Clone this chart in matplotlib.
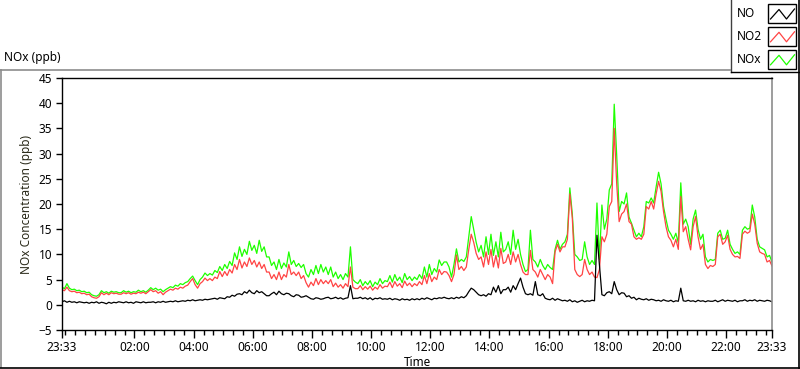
import numpy as np
import matplotlib
matplotlib.use("Agg")
import matplotlib.pyplot as plt
from matplotlib.lines import Line2D
from matplotlib.patches import Rectangle

plt.rcParams['font.family'] = ['Noto Sans', 'DejaVu Sans']

# ---------------- data (5-minute samples, 23:33 -> 23:33) ----------------
series_names = ["NO", "NO2", "NOx"]
series_colors = ["#000000", "#ff4444", "#1eff00"]

nox = [
    3.5, 3.2, 4.2, 3.3, 3.0, 3.1, 2.8, 2.9, 2.6, 2.7, 2.4, 2.5,
    2.0, 1.8, 1.7, 2.0, 2.8, 2.4, 2.6, 2.3, 2.7, 2.5, 2.6, 2.4,
    2.4, 2.8, 2.5, 2.7, 2.4, 2.6, 2.5, 2.9, 2.6, 2.8, 2.5, 2.9,
    3.4, 3.0, 3.3, 2.9, 3.1, 2.6, 3.0, 3.3, 3.6, 3.4, 3.9, 3.7,
    4.2, 4.0, 4.4, 4.6, 5.2, 5.7, 4.8, 4.0, 5.0, 5.5, 6.3, 5.8,
    6.2, 5.9, 6.8, 6.4, 7.6, 6.8, 8.0, 7.2, 8.6, 7.8, 10.3, 9.0,
    11.5, 9.6, 11.0, 10.0, 12.6, 10.8, 11.8, 10.2, 12.8, 10.6, 11.5, 9.5,
    9.5, 7.8, 8.5, 7.0, 9.0, 7.2, 8.3, 7.5, 10.5, 8.0, 8.8, 7.6,
    8.2, 7.4, 8.0, 6.2, 5.5, 7.0, 6.0, 7.8, 6.2, 8.0, 6.5, 7.5,
    6.0, 7.5, 5.5, 6.5, 5.2, 6.0, 5.0, 6.2, 5.5, 11.5, 5.0, 4.5,
    4.2, 5.0, 3.8, 4.6, 4.0, 4.8, 3.6, 4.5, 4.0, 5.2, 4.2, 4.8,
    4.6, 5.8, 4.5, 6.0, 4.8, 5.5, 4.4, 6.2, 5.0, 5.6, 4.8, 5.5,
    5.0, 6.0, 5.2, 7.5, 5.5, 8.0, 6.0, 7.2, 6.5, 8.9, 7.8, 8.5,
    8.5, 7.5, 5.5, 8.0, 11.1, 8.5, 9.0, 8.6, 9.5, 13.5, 17.5, 15.0,
    12.4, 10.5, 11.8, 9.5, 13.5, 10.0, 14.0, 9.8, 12.5, 9.5, 14.4, 10.5,
    11.0, 12.5, 10.0, 14.8, 11.0, 13.0, 10.0, 8.0, 6.6, 7.0, 14.8, 9.0,
    8.5, 7.5, 9.0, 7.8, 7.0, 8.0, 7.4, 7.0, 11.0, 12.8, 11.0, 12.0,
    12.5, 14.0, 23.2, 18.0, 10.0, 9.5, 8.8, 9.0, 12.5, 9.5, 8.0, 8.8,
    8.0, 20.2, 9.0, 19.8, 15.0, 17.0, 22.8, 24.0, 39.8, 29.7, 18.5, 20.5,
    20.0, 22.2, 17.4, 16.2, 14.8, 13.5, 14.2, 13.5, 15.5, 20.5, 20.2, 21.2,
    20.2, 23.4, 26.3, 24.0, 19.5, 17.0, 14.8, 14.0, 13.0, 14.2, 12.3, 24.2,
    16.0, 17.0, 15.5, 12.0, 17.0, 18.8, 15.0, 13.0, 14.0, 9.5, 8.5, 9.0,
    8.8, 9.0, 14.2, 14.8, 13.0, 13.2, 14.8, 12.0, 11.0, 10.2, 10.5, 10.0,
    14.8, 15.5, 15.0, 15.2, 19.8, 17.4, 13.0, 11.5, 11.2, 10.9, 9.5, 9.8, 8.5,
]

no2 = [
    3.0, 2.8, 3.5, 2.8, 2.6, 2.7, 2.4, 2.5, 2.2, 2.3, 2.0, 2.1,
    1.6, 1.4, 1.3, 1.6, 2.4, 2.0, 2.3, 2.0, 2.4, 2.2, 2.3, 2.1,
    2.1, 2.4, 2.2, 2.4, 2.1, 2.3, 2.2, 2.5, 2.3, 2.5, 2.2, 2.6,
    3.0, 2.6, 2.8, 2.3, 2.6, 2.0, 2.5, 2.8, 3.1, 2.9, 3.3, 3.1,
    3.5, 3.3, 3.7, 3.9, 4.6, 5.2, 4.0, 3.3, 4.2, 4.6, 5.3, 4.8,
    5.2, 4.8, 5.5, 5.2, 6.6, 5.6, 6.6, 5.8, 7.0, 6.3, 8.0, 7.0,
    9.0, 7.3, 8.5, 7.6, 9.3, 8.0, 8.8, 7.5, 8.5, 7.2, 8.0, 6.5,
    6.5, 5.2, 6.0, 5.0, 6.5, 5.0, 6.0, 5.5, 8.0, 6.0, 6.5, 5.8,
    6.5, 5.2, 5.8, 4.4, 3.5, 4.5, 3.8, 5.2, 4.0, 5.0, 4.2, 4.8,
    4.2, 5.0, 3.6, 4.3, 3.5, 4.0, 3.3, 4.2, 3.6, 7.5, 3.5, 3.2,
    3.2, 3.8, 3.0, 3.6, 3.1, 3.7, 2.9, 3.5, 3.1, 4.0, 3.3, 3.7,
    3.6, 4.5, 3.4, 4.6, 3.7, 4.2, 3.4, 4.7, 3.8, 4.3, 3.6, 4.2,
    3.8, 4.6, 4.0, 5.8, 4.2, 6.2, 4.6, 5.5, 5.0, 7.0, 6.0, 6.6,
    6.5, 5.8, 4.6, 6.0, 9.9, 7.0, 7.6, 6.8, 7.5, 11.0, 14.0, 12.4,
    10.2, 9.0, 9.5, 7.5, 10.5, 8.0, 11.0, 7.5, 9.8, 7.3, 11.2, 8.2,
    8.5, 10.0, 8.0, 10.5, 8.5, 10.0, 8.0, 6.5, 6.0, 6.0, 10.8, 7.0,
    6.5, 5.5, 7.0, 6.0, 5.0, 6.0, 5.5, 4.2, 10.5, 12.0, 10.5, 11.5,
    11.5, 13.0, 22.0, 17.2, 7.0, 6.0, 5.6, 6.0, 9.0, 7.0, 6.0, 6.5,
    5.5, 5.4, 7.0, 13.5, 12.5, 14.0, 19.5, 20.5, 35.0, 24.0, 16.5, 18.0,
    18.5, 20.0, 16.5, 16.0, 13.5, 13.0, 13.3, 13.0, 14.0, 19.5, 19.0, 20.5,
    19.0, 22.0, 24.5, 22.5, 18.5, 15.5, 13.5, 12.8, 11.5, 13.0, 11.0, 21.5,
    14.5, 15.5, 13.0, 10.9, 15.5, 17.5, 13.5, 11.0, 12.0, 8.0, 7.2, 7.8,
    7.6, 8.0, 13.5, 14.0, 12.0, 12.5, 13.8, 11.0, 10.0, 9.5, 9.6, 9.2,
    14.0, 14.6, 14.2, 14.5, 18.0, 16.0, 12.2, 10.5, 10.2, 10.0, 8.5, 8.8, 7.7,
]

no = [
    0.6, 0.8, 0.5, 0.7, 0.5, 0.6, 0.4, 0.6, 0.5, 0.4, 0.5, 0.3,
    0.5, 0.4, 0.6, 0.3, 0.5, 0.4, 0.2, 0.5, 0.3, 0.5, 0.4, 0.6,
    0.5, 0.4, 0.6, 0.4, 0.5, 0.3, 0.6, 0.5, 0.4, 0.6, 0.4, 0.5,
    0.5, 0.6, 0.4, 0.6, 0.5, 0.7, 0.5, 0.6, 0.7, 0.6, 0.8, 0.6,
    0.7, 0.8, 0.7, 0.9, 0.8, 1.0, 0.8, 0.9, 1.0, 0.9, 1.1, 1.0,
    1.1, 1.2, 1.3, 1.1, 1.4, 1.3, 1.2, 1.6, 1.5, 1.9, 1.7, 2.1,
    2.2, 2.0, 2.6, 2.3, 2.9, 2.4, 2.2, 2.8, 2.4, 2.6, 2.2, 1.8,
    1.8, 2.2, 2.5, 2.0, 2.7, 2.2, 2.0, 2.3, 2.2, 1.8, 1.6, 2.0,
    1.9, 1.5, 1.6, 1.8, 1.5, 1.2, 1.1, 1.4, 1.3, 1.1, 1.2, 1.4,
    1.5, 1.2, 1.3, 1.5, 1.2, 1.4, 1.1, 1.3, 1.4, 3.8, 1.2, 1.3,
    1.3, 1.5, 1.2, 1.4, 1.1, 1.4, 1.0, 1.3, 1.2, 1.4, 1.1, 1.2,
    1.1, 1.3, 1.0, 1.2, 1.1, 0.9, 1.2, 1.0, 1.1, 0.9, 1.2, 1.0,
    1.2, 1.0, 1.3, 1.1, 1.4, 1.2, 1.0, 1.3, 1.2, 1.4, 1.3, 1.5,
    1.3, 1.2, 1.4, 1.2, 1.5, 1.3, 1.6, 1.4, 1.8, 2.6, 3.3, 3.0,
    2.5, 2.0, 1.8, 2.0, 1.7, 2.2, 2.0, 3.5, 2.5, 3.8, 2.2, 3.0,
    3.0, 3.5, 2.5, 3.8, 3.0, 4.2, 5.3, 3.5, 2.2, 2.0, 2.2, 1.9,
    4.6, 2.0, 1.8, 2.2, 1.3, 1.1, 1.0, 1.3, 0.9, 1.2, 1.0, 0.8,
    0.9, 0.7, 1.0, 0.6, 0.8, 0.5, 0.7, 0.9, 0.6, 0.8, 0.7, 0.9,
    0.8, 13.8, 7.9, 2.0, 1.8, 2.4, 2.6, 2.2, 4.6, 3.0, 2.0, 2.4,
    2.3, 1.6, 1.8, 1.3, 1.5, 1.0, 1.3, 1.1, 1.0, 1.2, 0.9, 1.1,
    1.0, 0.8, 0.9, 0.7, 1.0, 0.8, 0.7, 0.9, 0.6, 0.8, 0.7, 3.3,
    0.8, 0.7, 0.9, 0.7, 0.8, 0.6, 0.9, 0.7, 0.8, 0.6, 0.8, 0.7,
    0.7, 0.9, 0.6, 0.8, 1.0, 0.7, 0.9, 0.8, 0.7, 0.9, 0.6, 0.8,
    0.8, 1.0, 0.7, 0.9, 0.8, 1.0, 0.7, 0.9, 0.8, 0.7, 0.9, 0.8, 0.6,
]

x_major_labels = ["23:33", "02:00", "04:00", "06:00", "08:00", "10:00", "12:00",
                  "14:00", "16:00", "18:00", "20:00", "22:00", "23:33"]
y_ticks = [-5, 0, 5, 10, 15, 20, 25, 30, 35, 40, 45]

# ---------------- figure ----------------
W, H = 800, 369
fig = plt.figure(figsize=(W / 100, H / 100), dpi=100)
fig.patch.set_facecolor("white")


def P(x, y):
    return x / W, 1 - y / H


ax = fig.add_axes([62 / W, 1 - 330 / H, 710 / W, 252 / H])

for vals, col in [(nox, series_colors[2]), (no2, series_colors[1]), (no, series_colors[0])]:
    t = np.linspace(0, 24, len(vals))  # hours since 23:33, 5-minute samples
    ax.plot(t, vals, color=col, lw=0.9)

ax.set_xlim(0, 24)
ax.set_ylim(-5, 45)

offset = 27 / 60.0  # 23:33 -> 00:00
major = [0.0] + [offset + h for h in range(2, 24, 2)] + [24.0]
ax.set_xticks(major)
ax.set_xticklabels(x_major_labels)
ax.set_xticks(np.arange(offset - 1 / 3, 24, 1 / 3), minor=True)
ax.set_yticks(y_ticks)

ax.tick_params(axis="x", which="major", length=6, width=1, pad=2, labelsize=8.5,
               direction="out")
ax.tick_params(axis="x", which="minor", length=3.5, width=1, direction="out")
ax.tick_params(axis="y", which="major", length=4, width=1, pad=3, labelsize=8.5,
               direction="out")

for side in ["left", "bottom", "top"]:
    ax.spines[side].set_color("black")
    ax.spines[side].set_linewidth(1.0)
ax.spines["right"].set_color("#8c8c8c")
ax.spines["right"].set_linewidth(1.2)

ax.set_xlabel("Time", fontsize=8.5, labelpad=1)
ax.set_ylabel("NOx Concentration (ppb)", fontsize=8.5, color="#2a2a1a", labelpad=4)

# panel title
fig.text(*P(4, 58), "NOx (ppb)", fontsize=8.5, ha="left", va="center")

# panel frame
fig.add_artist(Line2D([0, 730 / W], [1 - 69.5 / H] * 2, color="#8c8c8c", lw=1.2))
fig.add_artist(Line2D([0.6 / W] * 2, [1 - 69.5 / H, 1 - 367 / H], color="#8c8c8c", lw=1.2))
fig.add_artist(Line2D([0, 799.5 / W], [1 - 367.5 / H] * 2, color="black", lw=1.2))
fig.add_artist(Line2D([799 / W] * 2, [1 - 0 / H, 1 - 367.5 / H], color="black", lw=1.2))

# legend box
fig.add_artist(Line2D([730.5 / W] * 2, [1.0, 1 - 72 / H], color="#404040", lw=1.0))
fig.add_artist(Line2D([730.5 / W, 799 / W], [1 - 72 / H] * 2, color="black", lw=1.0))

legend_rows = [13.5, 36.3, 59.3]
for name, col, yc in zip(series_names, series_colors, legend_rows):
    fig.text(*P(737, yc), name, fontsize=8.5, ha="left", va="center")
    bx0, bx1 = 768, 796
    by0, by1 = yc - 9.5, yc + 9.5
    fx0, fy1 = P(bx0, by1)
    fx1, fy0 = P(bx1, by0)
    fig.add_artist(Rectangle((fx0, fy1), fx1 - fx0, fy0 - fy1, fill=False,
                             ec="black", lw=1.0, transform=fig.transFigure))
    zx = [770.5, 779, 786.5, 794.5]
    zy = [yc + 5.5, yc - 4, yc + 5.5, yc - 4.5]
    pts = [P(a, b) for a, b in zip(zx, zy)]
    fig.add_artist(Line2D([p[0] for p in pts], [p[1] for p in pts], color=col, lw=0.9))

fig.savefig("out.png", dpi=100, facecolor="white")
